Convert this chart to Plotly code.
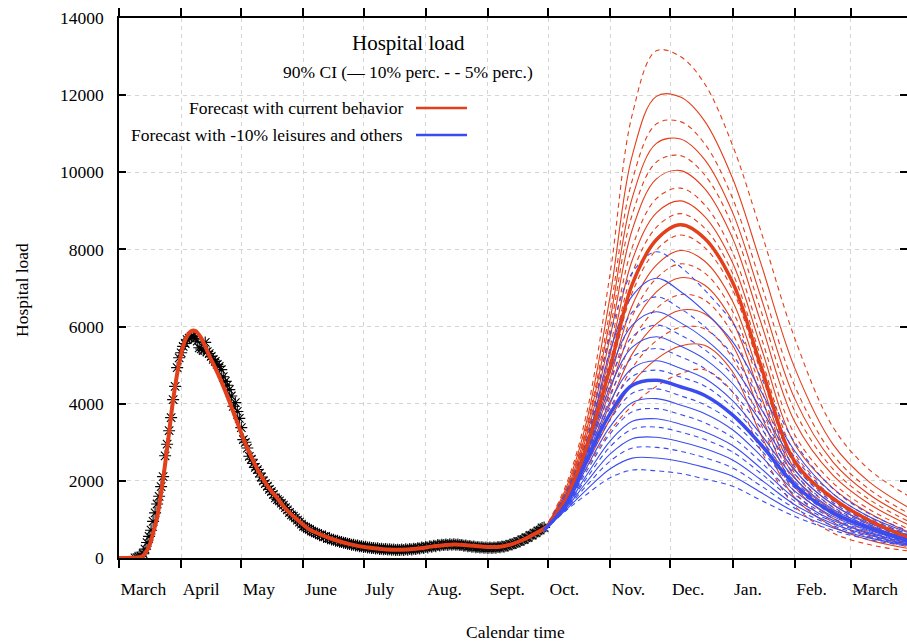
import pandas as pd
import plotly.graph_objects as go

# ---------------- data ----------------
start_date = "2020-03-01"

# observed hospital load, one value per day starting at day 8 after start_date
obs_first_day = 8
observed = [
    5, 12, 25, 50, 110, 230, 400, 560, 720, 950, 1170, 1400, 1600,
    1850, 2110, 2650, 2950, 3300, 3640, 4105, 4450, 4935, 5190,
    5320, 5486, 5560, 5660, 5700, 5745, 5760, 5690, 5620, 5450,
    5420, 5380, 5590, 5350, 5300, 5227, 5150, 5097, 5020, 4968,
    4883, 4700, 4580, 4480, 4364, 4200, 3933, 4027, 3800, 3620,
    3380, 3070, 3000, 2850, 2637, 2560, 2450, 2350, 2292, 2200,
    2100, 2000, 1930, 1860, 1780, 1720, 1650, 1560, 1515, 1480,
    1420, 1370, 1308, 1250, 1180, 1120, 1083, 1040, 980, 930,
    880, 823, 800, 770, 740, 700, 680, 650, 630, 600,
    590, 550, 560, 510, 505, 480, 475, 450, 445, 420,
    415, 395, 390, 370, 365, 345, 345, 325, 325, 305,
    305, 285, 290, 270, 275, 258, 262, 245, 250, 235,
    240, 225, 232, 220, 225, 212, 220, 208, 215, 205,
    218, 210, 225, 215, 232, 222, 242, 232, 256, 245,
    272, 262, 288, 275, 302, 290, 318, 305, 334, 322,
    344, 335, 352, 340, 358, 345, 356, 342, 350, 334,
    340, 320, 326, 305, 312, 292, 298, 280, 286, 272,
    278, 265, 272, 260, 270, 262, 274, 266, 282, 278,
    296, 292, 318, 320, 348, 350, 382, 390, 425, 430,
    470, 480, 525, 530, 585, 590, 645, 650, 705, 720,
    780, 790,
]

# fitted model (days after start_date)
fit_days = [0, 6, 10, 12, 15, 17, 19, 22, 24.5, 27, 30, 33, 36, 38, 41, 45, 50, 54,
            58, 62, 66, 70, 75, 79, 83, 87, 91, 95, 100, 107, 115, 124, 132, 140,
            148, 156, 163, 170, 177, 184, 190, 196, 201, 206, 210, 213]
fit_values = [0, 5, 20, 60, 300, 650, 1050, 2050, 3050, 4100, 5050, 5650, 5880, 5890,
              5700, 5250, 4700, 4200, 3650, 3100, 2620, 2210, 1800, 1550, 1280, 1080,
              900, 740, 620, 480, 360, 270, 230, 215, 240, 295, 340, 345, 315, 285,
              290, 360, 460, 590, 700, 800]

forecast_dates = ["2020-09-29", "2020-10-10", "2020-10-20", "2020-11-01", "2020-11-12",
                  "2020-11-24", "2020-12-06", "2020-12-18", "2021-01-01", "2021-01-15",
                  "2021-02-01", "2021-02-20", "2021-03-10", "2021-03-30"]

# forecast with current behavior: percentiles 5..95
red_q05 = [720, 1350, 2300, 3300, 3950, 4450, 4780, 4880, 4300, 2800, 1350, 650, 350, 180]
red_q10 = [720, 1387, 2402, 3607, 4536, 5157, 5498, 5514, 4830, 3209, 1564, 817, 467, 243]
red_q15 = [720, 1412, 2471, 3813, 4930, 5632, 5980, 5941, 5186, 3484, 1708, 930, 546, 286]
red_q20 = [720, 1435, 2534, 4003, 5292, 6069, 6424, 6333, 5514, 3737, 1840, 1033, 618, 325]
red_q25 = [720, 1456, 2592, 4176, 5623, 6468, 6830, 6691, 5813, 3968, 1961, 1128, 685, 361]
red_q30 = [720, 1479, 2654, 4363, 5979, 6897, 7266, 7076, 6135, 4217, 2091, 1230, 756, 399]
red_q35 = [720, 1497, 2705, 4516, 6272, 7251, 7625, 7393, 6400, 4421, 2198, 1313, 814, 431]
red_q40 = [720, 1515, 2755, 4665, 6555, 7593, 7972, 7700, 6657, 4619, 2301, 1394, 871, 461]
red_q45 = [720, 1536, 2812, 4836, 6883, 7988, 8374, 8055, 6953, 4848, 2421, 1488, 937, 497]
red_q50 = [720, 1550, 2850, 4950, 7100, 8250, 8640, 8290, 7150, 5000, 2500, 1550, 980, 520]
red_q55 = [720, 1573, 2906, 5112, 7390, 8573, 8928, 8555, 7384, 5231, 2711, 1672, 1067, 588]
red_q60 = [720, 1600, 2971, 5298, 7725, 8946, 9259, 8859, 7654, 5497, 2954, 1813, 1167, 666]
red_q65 = [720, 1626, 3035, 5484, 8059, 9318, 9590, 9164, 7924, 5763, 3198, 1953, 1268, 745]
red_q70 = [720, 1663, 3124, 5739, 8517, 9828, 10044, 9581, 8293, 6127, 3530, 2146, 1405, 852]
red_q75 = [720, 1694, 3199, 5957, 8908, 10264, 10432, 9938, 8609, 6439, 3815, 2310, 1523, 943]
red_q80 = [720, 1729, 3284, 6200, 9344, 10749, 10864, 10335, 8961, 6785, 4132, 2494, 1653, 1045]
red_q85 = [720, 1765, 3371, 6452, 9797, 11254, 11313, 10748, 9326, 7146, 4462, 2684, 1789, 1151]
red_q90 = [720, 1816, 3495, 6810, 10440, 11969, 11949, 11334, 9844, 7657, 4929, 2954, 1982, 1302]
red_q95 = [720, 1900, 3700, 7400, 11500, 13150, 13000, 12300, 10700, 8500, 5700, 3400, 2300, 1600]

# forecast with -10% leisures and others: percentiles 5..95
blue_q05 = [720, 1230, 1640, 2080, 2280, 2260, 2190, 2050, 1860, 1500, 1080, 720, 480, 300]
blue_q10 = [720, 1254, 1761, 2315, 2590, 2591, 2504, 2350, 2119, 1704, 1196, 783, 522, 321]
blue_q15 = [720, 1274, 1863, 2513, 2850, 2869, 2768, 2602, 2337, 1876, 1292, 837, 558, 339]
blue_q20 = [720, 1293, 1958, 2698, 3094, 3130, 3015, 2838, 2541, 2037, 1383, 887, 591, 356]
blue_q25 = [720, 1312, 2055, 2885, 3340, 3393, 3265, 3077, 2747, 2199, 1475, 937, 625, 372]
blue_q30 = [720, 1328, 2134, 3039, 3543, 3609, 3470, 3273, 2916, 2332, 1551, 978, 652, 386]
blue_q35 = [720, 1347, 2230, 3226, 3789, 3872, 3720, 3511, 3122, 2495, 1643, 1029, 686, 403]
blue_q40 = [720, 1365, 2325, 3411, 4033, 4133, 3967, 3748, 3326, 2656, 1734, 1079, 719, 420]
blue_q45 = [720, 1384, 2417, 3590, 4269, 4384, 4206, 3976, 3523, 2811, 1821, 1127, 751, 436]
blue_q50 = [720, 1400, 2500, 3750, 4480, 4610, 4440, 4220, 3710, 2950, 1900, 1170, 780, 450]
blue_q55 = [720, 1423, 2539, 3910, 4708, 4870, 4692, 4461, 3906, 3087, 1986, 1219, 809, 470]
blue_q60 = [720, 1445, 2576, 4060, 4921, 5113, 4918, 4658, 4079, 3214, 2066, 1265, 836, 488]
blue_q65 = [720, 1474, 2624, 4256, 5201, 5433, 5216, 4917, 4308, 3382, 2172, 1326, 871, 512]
blue_q70 = [720, 1501, 2669, 4443, 5467, 5736, 5498, 5163, 4524, 3542, 2272, 1383, 905, 535]
blue_q75 = [720, 1529, 2715, 4629, 5733, 6039, 5780, 5408, 4741, 3701, 2372, 1440, 939, 557]
blue_q80 = [720, 1560, 2767, 4843, 6036, 6385, 6102, 5689, 4989, 3883, 2486, 1506, 977, 583]
blue_q85 = [720, 1595, 2825, 5080, 6375, 6771, 6462, 6002, 5265, 4086, 2614, 1579, 1020, 612]
blue_q90 = [720, 1638, 2897, 5378, 6798, 7254, 6911, 6394, 5610, 4340, 2773, 1670, 1074, 649]
blue_q95 = [720, 1700, 3000, 5800, 7400, 7940, 7550, 6950, 6100, 4700, 3000, 1800, 1150, 700]

percentiles = [5, 10, 15, 20, 25, 30, 35, 40, 45, 50, 55, 60, 65, 70, 75, 80, 85, 90, 95]
red_curves = [red_q05, red_q10, red_q15, red_q20, red_q25, red_q30, red_q35, red_q40, red_q45,
              red_q50, red_q55, red_q60, red_q65, red_q70, red_q75, red_q80, red_q85, red_q90, red_q95]
blue_curves = [blue_q05, blue_q10, blue_q15, blue_q20, blue_q25, blue_q30, blue_q35, blue_q40,
               blue_q45, blue_q50, blue_q55, blue_q60, blue_q65, blue_q70, blue_q75, blue_q80,
               blue_q85, blue_q90, blue_q95]

month_ticks = ["2020-03-01", "2020-04-01", "2020-05-01", "2020-06-01", "2020-07-01",
               "2020-08-01", "2020-09-01", "2020-10-01", "2020-11-01", "2020-12-01",
               "2021-01-01", "2021-02-01", "2021-03-01"]
month_labels = ["March", "April", "May", "June", "July", "Aug.", "Sept.", "Oct.", "Nov.",
                "Dec.", "Jan.", "Feb.", "March"]
y_ticks = [0, 2000, 4000, 6000, 8000, 10000, 12000, 14000]

# ---------------- styling ----------------
RED = "#e23f1a"
BLUE = "#3a4cf0"
FONT = "Liberation Serif"
W, H = 907, 642
L, R, T, B = 119, 0, 18, 84
PW, PH = W - L - R, H - T - B


def px(xp):
    return (xp - L) / PW


def py(yp):
    return (H - B - yp) / PH


base = pd.Timestamp(start_date)
obs_x = base + pd.to_timedelta(list(range(obs_first_day, obs_first_day + len(observed))), unit="D")
fit_x = base + pd.to_timedelta(fit_days, unit="D")

fig = go.Figure()

fig.add_trace(go.Scatter(
    x=obs_x, y=observed, mode="markers", hoverinfo="skip",
    marker=dict(symbol="asterisk-open", size=10, color="black",
                line=dict(color="black", width=1.1))))

fig.add_trace(go.Scatter(
    x=fit_x, y=fit_values, mode="lines", hoverinfo="skip",
    line=dict(color=RED, width=4, shape="spline", smoothing=1.0)))


def add_family(curves, color):
    for q, vals in zip(percentiles, curves):
        if q == 50:
            continue
        dash = "5px,4px" if q % 10 == 5 else "solid"
        fig.add_trace(go.Scatter(
            x=forecast_dates, y=vals, mode="lines", hoverinfo="skip",
            line=dict(color=color, width=1.1, dash=dash, shape="spline", smoothing=1.0)))


add_family(red_curves, RED)
add_family(blue_curves, BLUE)

fig.add_trace(go.Scatter(
    x=forecast_dates, y=red_q50, mode="lines", hoverinfo="skip",
    line=dict(color=RED, width=3.5, shape="spline", smoothing=1.0)))
fig.add_trace(go.Scatter(
    x=forecast_dates, y=blue_q50, mode="lines", hoverinfo="skip",
    line=dict(color=BLUE, width=3.5, shape="spline", smoothing=1.0)))

# invisible trace to carry the right-hand tick axis
fig.add_trace(go.Scatter(x=[], y=[], yaxis="y2", mode="lines", hoverinfo="skip"))

grid = dict(showgrid=True, gridcolor="#d4d4d4", gridwidth=1, griddash="4px,4px")

fig.update_layout(
    width=W, height=H,
    margin=dict(l=L, r=R, t=T, b=B, pad=0),
    plot_bgcolor="white", paper_bgcolor="white",
    showlegend=False,
    font=dict(family=FONT, size=17.5, color="black"),
    xaxis=dict(
        type="date", range=["2020-03-01", "2021-03-29"],
        tickmode="array", tickvals=month_ticks, ticktext=month_labels,
        ticks="outside", ticklen=8, tickwidth=1.5, tickcolor="black",
        ticklabelposition="outside right", ticklabelstandoff=14,
        showline=True, linecolor="black", linewidth=1.5, mirror="ticks",
        zeroline=False, **grid),
    yaxis=dict(
        range=[0, 14000], tickmode="array", tickvals=y_ticks, tickformat="d",
        ticks="inside", ticklen=7, tickwidth=1.5, tickcolor="black",
        ticklabelstandoff=10,
        showline=True, linecolor="black", linewidth=1.5, mirror=False,
        zeroline=False, **grid),
    yaxis2=dict(
        range=[0, 14000], overlaying="y", side="right", anchor="x",
        tickmode="array", tickvals=y_ticks, showticklabels=False,
        ticks="inside", ticklen=7, tickwidth=1.5, tickcolor="black",
        showline=False, showgrid=False, zeroline=False),
)

annotations = [
    dict(text="Hospital load", x=px(408), y=py(43), font=dict(size=21)),
    dict(text="90% CI (— 10% perc. - - 5% perc.)", x=px(408), y=py(72)),
    dict(text="Forecast with current behavior", x=px(405), y=py(108), xanchor="right"),
    dict(text="Forecast with -10% leisures and others", x=px(405), y=py(135), xanchor="right"),
    dict(text="Hospital load", x=px(22), y=py(290), textangle=-90),
    dict(text="Calendar time", x=px(515), y=py(632)),
]
for a in annotations:
    a.setdefault("xanchor", "center")
    fig.add_annotation(xref="paper", yref="paper", showarrow=False, yanchor="middle", **a)

for color, yp in [(RED, 108), (BLUE, 135)]:
    fig.add_shape(type="line", xref="paper", yref="paper",
                  x0=px(416), x1=px(467), y0=py(yp), y1=py(yp),
                  line=dict(color=color, width=2.5))

fig.write_html("out.html")
